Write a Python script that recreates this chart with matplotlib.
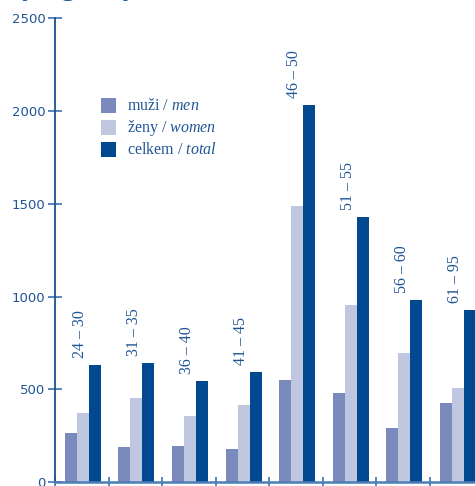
import matplotlib
matplotlib.use("Agg")
import matplotlib.pyplot as plt
import numpy as np
from matplotlib.patches import Rectangle

# ---- data ----
age_groups = ["24 – 30", "31 – 35", "36 – 40", "41 – 45", "46 – 50", "51 – 55", "56 – 60", "61 – 95"]
men = [266, 190, 196, 178, 550, 482, 293, 427]
women = [374, 455, 358, 417, 1490, 955, 696, 508]
total = [631, 643, 546, 595, 2033, 1429, 982, 928]
yticks = [0, 500, 1000, 1500, 2000, 2500]
legend_labels = ["muži / $\\it{men}$", "ženy / $\\it{women}$", "celkem / $\\it{total}$"]
title_fragment = "by age, by"

c_men = "#7b8abd"
c_women = "#bfc6e0"
c_total = "#00488f"
c_text = "#1f5596"
c_axis = "#1d4f91"

plt.rcParams['mathtext.fontset'] = 'custom'
plt.rcParams['mathtext.rm'] = 'Liberation Serif'
plt.rcParams['mathtext.it'] = 'Liberation Serif:italic'

W, H = 475, 486
fig = plt.figure(figsize=(W / 100, H / 100), dpi=100)
left_px, right_px, bottom_px, top_px = 55, 483.5, 4, 467.7
ax = fig.add_axes([left_px / W, bottom_px / H, (right_px - left_px) / W, (top_px - bottom_px) / H])

x = np.arange(len(age_groups))
bw = 0.224
shift = 0.02
ax.bar(x + shift - bw, men, bw, color=c_men, align='center', linewidth=0)
ax.bar(x + shift, women, bw, color=c_women, align='center', linewidth=0)
ax.bar(x + shift + bw, total, bw, color=c_total, align='center', linewidth=0)

for xi, t, lab in zip(x, total, age_groups):
    ax.text(xi - 0.03, t + 35, lab, rotation=90, ha='center', va='bottom',
            family='Liberation Serif', fontsize=11.5, color=c_text)

ax.set_xlim(-0.5, len(age_groups) - 0.5)
ax.set_ylim(0, 2500)
ax.set_yticks(yticks)
ax.set_yticklabels([str(v) for v in yticks])
ax.set_xticks(np.arange(len(age_groups) + 1) - 0.5)
ax.set_xticklabels([])

for s in ['top', 'right']:
    ax.spines[s].set_visible(False)
ax.spines['left'].set_color(c_axis)
ax.spines['left'].set_linewidth(1.3)
ax.spines['bottom'].set_color("#4c7db5")
ax.spines['bottom'].set_linewidth(1.8)
ax.tick_params(axis='y', direction='inout', length=10, width=1.3, color="#4c7db5",
               labelcolor=c_text, labelsize=9.5, pad=2)
ax.tick_params(axis='x', direction='inout', length=7, width=1.3, color="#4c7db5")
for lbl in ax.get_yticklabels():
    lbl.set_family('DejaVu Sans')

# legend
sq = 15
leg_x = 101
leg_tops = [98.3, 120, 142]
for top, col, lab in zip(leg_tops, [c_men, c_women, c_total], legend_labels):
    fig.patches.append(Rectangle((leg_x / W, 1 - (top + sq) / H), sq / W, sq / H,
                                 transform=fig.transFigure, color=col, lw=0))
    fig.text(127 / W, 1 - (top + sq / 2) / H, lab, ha='left', va='center',
             family='Liberation Serif', fontsize=11.5, color=c_text)

# cut-off title (only its lowest part is inside the picture)
fig.text(6 / W, 1 + 6 / H, title_fragment, ha='left', va='baseline',
         family='Liberation Serif', fontsize=23, color=c_text)

fig.savefig("out.png", dpi=100)
